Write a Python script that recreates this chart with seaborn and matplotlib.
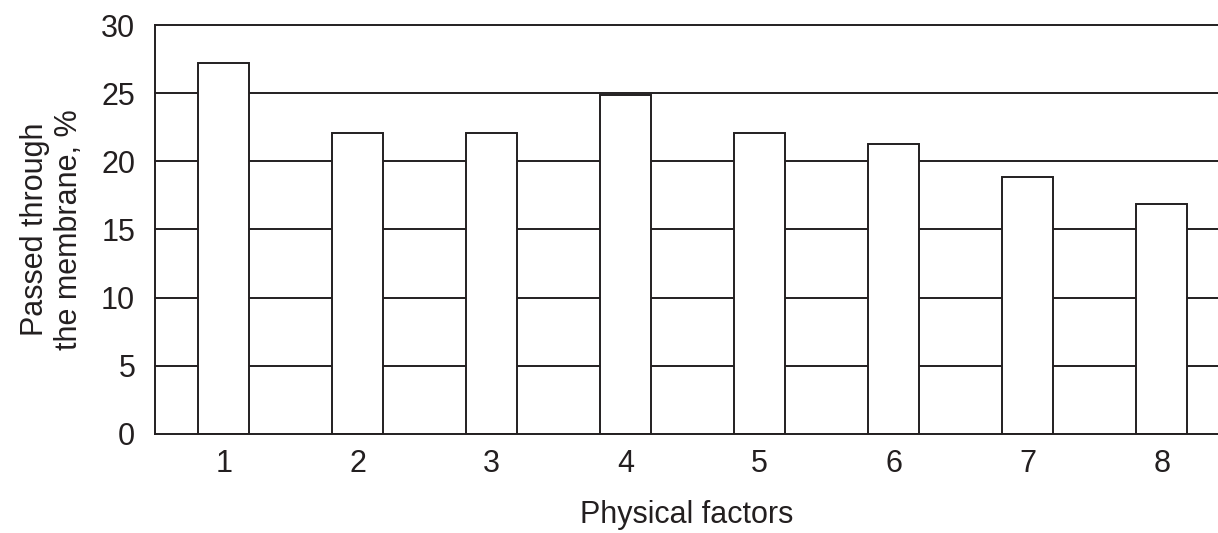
import matplotlib
matplotlib.use("Agg")
import matplotlib.pyplot as plt
import pandas as pd
import seaborn as sns

factors = ["1", "2", "3", "4", "5", "6", "7", "8"]
passed_pct = [27.25, 22.1, 22.1, 24.87, 22.1, 21.28, 18.86, 16.9]
y_ticks = [0, 5, 10, 15, 20, 25, 30]


def main() -> None:
    sns.set_theme(style="white")
    plt.rcParams["font.family"] = ["Liberation Sans", "DejaVu Sans"]

    df = pd.DataFrame({"factor": factors, "passed": passed_pct})

    fig = plt.figure(figsize=(12.18, 5.33), dpi=100)
    ax = fig.add_axes([0.127, 0.186, 0.873, 0.767])

    for y in y_ticks[1:]:
        ax.axhline(y, color="#231f20", linewidth=1.4, zorder=0, clip_on=False)

    sns.barplot(
        data=df,
        x="factor",
        y="passed",
        color="white",
        saturation=1,
        edgecolor="#231f20",
        linewidth=1.4,
        width=0.38,
        ax=ax,
        zorder=2,
    )

    ax.set_xlim(-0.515, 7.42)
    ax.set_ylim(0, 30)
    ax.set_yticks(y_ticks)
    ax.tick_params(axis="both", length=0, labelsize=22, colors="#231f20")
    ax.tick_params(axis="y", pad=14)
    ax.tick_params(axis="x", pad=11)
    ax.set_xlabel("Physical factors", fontsize=22, color="#231f20", labelpad=15)
    ax.set_ylabel("Passed through\nthe membrane, %", fontsize=22, color="#231f20", labelpad=12)

    for side in ["top", "right"]:
        ax.spines[side].set_visible(False)
    for side in ["left", "bottom"]:
        ax.spines[side].set_color("#231f20")
        ax.spines[side].set_linewidth(1.4)

    fig.savefig("out.png", dpi=100)
    plt.close(fig)


if __name__ == "__main__":
    main()
